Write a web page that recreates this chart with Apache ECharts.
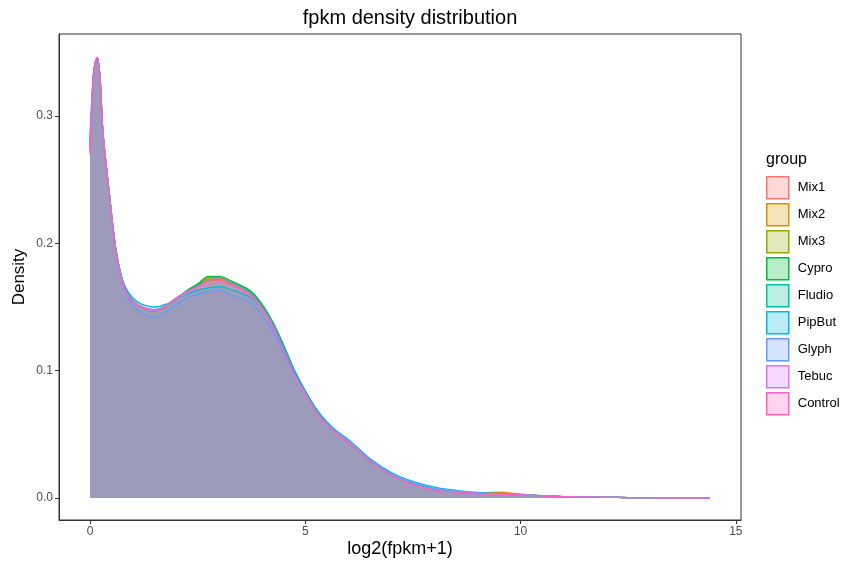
<!DOCTYPE html>
<html>
<head>
<meta charset="utf-8">
<script type="text/javascript" src="https://cdn.jsdelivr.net/npm/echarts@6/dist/echarts.min.js"></script>
<style>
	body { margin: 0; background: #fff; }
	#main { width: 858px; height: 567px; }
</style>
</head>
<body>
<div id="main"></div>
<script type="text/javascript">
	// log2(fpkm+1) grid points
	var xs = [0, 0.04, 0.08, 0.12, 0.17, 0.23, 0.3, 0.45, 0.6, 0.75, 0.9, 1.1, 1.3, 1.5, 1.75, 2, 2.25, 2.5, 2.75, 3, 3.25, 3.5, 3.75, 4, 4.25, 4.5, 4.75, 5, 5.25, 5.5, 5.75, 6, 6.5, 7, 7.5, 8, 8.5, 9, 9.5, 10, 10.5, 11, 11.5, 12, 12.5, 13, 13.5, 14, 14.4];

	var groups = ['Mix1', 'Mix2', 'Mix3', 'Cypro', 'Fludio', 'PipBut', 'Glyph', 'Tebuc', 'Control'];
	var colors = ['#F8766D', '#D39200', '#93AA00', '#00BA38', '#00C19F', '#00B9E3', '#619CFF', '#DB72FB', '#FF61C3'];

	var mix1 = [0.272, 0.304, 0.329, 0.342, 0.346, 0.331, 0.287, 0.238, 0.194, 0.170, 0.158, 0.151, 0.148, 0.147, 0.150, 0.156, 0.161, 0.166, 0.170, 0.171, 0.168, 0.164, 0.158, 0.148, 0.134, 0.116, 0.097, 0.082, 0.068, 0.058, 0.050, 0.044, 0.029, 0.018, 0.0108, 0.0065, 0.0047, 0.0036, 0.0033, 0.0026, 0.0017, 0.0011, 0.0007, 0.0005, 0.0003, 0.0002, 0.0001, 0.00005, 0];
	var mix2 = [0.274, 0.305, 0.330, 0.342, 0.345, 0.331, 0.287, 0.238, 0.194, 0.170, 0.158, 0.151, 0.148, 0.147, 0.150, 0.156, 0.162, 0.167, 0.172, 0.172, 0.168, 0.164, 0.159, 0.149, 0.135, 0.117, 0.098, 0.083, 0.069, 0.058, 0.050, 0.044, 0.029, 0.018, 0.0108, 0.0066, 0.0048, 0.0040, 0.0045, 0.0030, 0.0018, 0.0011, 0.0007, 0.0005, 0.0003, 0.0002, 0.0001, 0.00005, 0];
	var mix3 = [0.275, 0.306, 0.331, 0.342, 0.345, 0.331, 0.287, 0.238, 0.195, 0.171, 0.159, 0.152, 0.148, 0.147, 0.150, 0.156, 0.162, 0.168, 0.173, 0.173, 0.169, 0.165, 0.160, 0.150, 0.136, 0.118, 0.099, 0.083, 0.069, 0.058, 0.050, 0.044, 0.029, 0.018, 0.0108, 0.0065, 0.0047, 0.0036, 0.0034, 0.0028, 0.0018, 0.0011, 0.0007, 0.0005, 0.0003, 0.0002, 0.0001, 0.00005, 0];
	var cypro = [0.276, 0.306, 0.331, 0.342, 0.345, 0.331, 0.287, 0.238, 0.195, 0.171, 0.159, 0.152, 0.148, 0.147, 0.150, 0.156, 0.163, 0.168, 0.174, 0.174, 0.171, 0.167, 0.162, 0.152, 0.138, 0.120, 0.100, 0.084, 0.070, 0.059, 0.051, 0.044, 0.029, 0.018, 0.0108, 0.0064, 0.0046, 0.0035, 0.0031, 0.0026, 0.0017, 0.0010, 0.0007, 0.0005, 0.0003, 0.0002, 0.0001, 0.00005, 0];
	var fludio = [0.276, 0.306, 0.331, 0.342, 0.345, 0.331, 0.287, 0.238, 0.195, 0.171, 0.159, 0.152, 0.149, 0.148, 0.151, 0.157, 0.162, 0.167, 0.171, 0.172, 0.170, 0.166, 0.161, 0.151, 0.137, 0.119, 0.100, 0.084, 0.070, 0.059, 0.051, 0.045, 0.030, 0.019, 0.0110, 0.0066, 0.0047, 0.0035, 0.0031, 0.0026, 0.0017, 0.0010, 0.0007, 0.0005, 0.0003, 0.0002, 0.0001, 0.00005, 0];
	var pipbut = [0.280, 0.310, 0.333, 0.342, 0.345, 0.332, 0.288, 0.239, 0.196, 0.172, 0.161, 0.154, 0.151, 0.150, 0.152, 0.156, 0.160, 0.163, 0.165, 0.166, 0.164, 0.161, 0.157, 0.148, 0.135, 0.117, 0.099, 0.084, 0.070, 0.060, 0.052, 0.046, 0.031, 0.020, 0.0130, 0.0085, 0.0060, 0.0043, 0.0034, 0.0027, 0.0018, 0.0011, 0.0007, 0.0005, 0.0003, 0.0002, 0.0001, 0.00005, 0];
	var glyph = [0.285, 0.313, 0.334, 0.341, 0.342, 0.331, 0.288, 0.238, 0.194, 0.169, 0.156, 0.148, 0.143, 0.142, 0.146, 0.152, 0.157, 0.160, 0.162, 0.163, 0.160, 0.157, 0.153, 0.144, 0.131, 0.114, 0.096, 0.082, 0.068, 0.058, 0.051, 0.045, 0.030, 0.019, 0.0120, 0.0075, 0.0052, 0.0038, 0.0032, 0.0026, 0.0017, 0.0010, 0.0007, 0.0005, 0.0003, 0.0002, 0.0001, 0.00005, 0];
	var tebuc = [0.273, 0.304, 0.330, 0.342, 0.346, 0.331, 0.287, 0.238, 0.194, 0.170, 0.158, 0.151, 0.148, 0.147, 0.150, 0.156, 0.161, 0.165, 0.168, 0.169, 0.167, 0.163, 0.158, 0.148, 0.134, 0.116, 0.097, 0.082, 0.068, 0.058, 0.050, 0.044, 0.029, 0.018, 0.0107, 0.0064, 0.0046, 0.0035, 0.0031, 0.0025, 0.0017, 0.0010, 0.0007, 0.0005, 0.0003, 0.0002, 0.0001, 0.00005, 0];
	var control = [0.270, 0.302, 0.328, 0.342, 0.346, 0.330, 0.286, 0.237, 0.193, 0.169, 0.158, 0.152, 0.149, 0.148, 0.151, 0.157, 0.162, 0.166, 0.171, 0.172, 0.169, 0.165, 0.159, 0.149, 0.135, 0.116, 0.097, 0.082, 0.068, 0.058, 0.050, 0.044, 0.029, 0.018, 0.0105, 0.0062, 0.0045, 0.0033, 0.0030, 0.0025, 0.0017, 0.0010, 0.0007, 0.0005, 0.0003, 0.0002, 0.0001, 0.00005, 0.00002];

	var densities = [mix1, mix2, mix3, cypro, fludio, pipbut, glyph, tebuc, control];

	var xTicks = [0, 5, 10, 15];
	var yTicks = [0, 0.1, 0.2, 0.3];

	function alpha(hex, a) {
		var r = parseInt(hex.substr(1, 2), 16), g = parseInt(hex.substr(3, 2), 16), b = parseInt(hex.substr(5, 2), 16);
		return 'rgba(' + r + ',' + g + ',' + b + ',' + a + ')';
	}

	var font = 'Liberation Sans, Arial, sans-serif';
	var series = [], legendData = [];
	for (var i = 0; i < groups.length; i++) {
		var pts = [];
		for (var j = 0; j < xs.length; j++) {
			pts.push([xs[j], densities[i][j]]);
		}
		series.push({
			name : groups[i],
			type : 'line',
			smooth : 0.3,
			symbol : 'none',
			data : pts,
			itemStyle : { color : colors[i] },
			lineStyle : { color : colors[i], width : 1.3 },
			areaStyle : { color : alpha(colors[i], 0.2), opacity : 1 }
		});
		legendData.push({
			name : groups[i],
			itemStyle : { color : alpha(colors[i], 0.27), borderColor : colors[i], borderWidth : 1.5 }
		});
	}

	var myChart = echarts.init(document.getElementById('main'));
	var option = {
		animation : false,
		backgroundColor : '#fff',
		title : [ {
			text : 'fpkm density distribution',
			left : 405,
			textAlign : 'center',
			top : 3,
			textStyle : { fontFamily : font, fontSize : 20, fontWeight : 'normal', color : '#000' }
		}, {
			text : 'group',
			left : 761,
			top : 147,
			textStyle : { fontFamily : font, fontSize : 16, fontWeight : 'normal', color : '#000' }
		} ],
		legend : {
			orient : 'vertical',
			left : 766,
			top : 176,
			padding : 0,
			icon : 'rect',
			itemWidth : 22,
			itemHeight : 22,
			itemGap : 3.5,
			data : legendData,
			selectedMode : false,
			textStyle : { fontFamily : font, fontSize : 13, color : '#000', padding : [0, 0, 0, 4] }
		},
		grid : {
			left : 59,
			right : 117,
			top : 34,
			bottom : 47,
			show : true,
			borderColor : '#333',
			borderWidth : 1
		},
		xAxis : {
			type : 'value',
			min : -0.72,
			max : 15.12,
			name : 'log2(fpkm+1)',
			nameLocation : 'middle',
			nameMoveOverlap : false,
			nameGap : 20,
			nameTextStyle : { fontFamily : font, fontSize : 18, color : '#000' },
			axisLine : { onZero : false, lineStyle : { color : '#333', width : 1 } },
			axisTick : { customValues : xTicks, length : 4, lineStyle : { color : '#333' } },
			axisLabel : { customValues : xTicks, fontFamily : font, fontSize : 12, color : '#4d4d4d', margin : 6 },
			splitLine : { show : false }
		},
		yAxis : {
			type : 'value',
			min : -0.0173,
			max : 0.3644,
			name : 'Density',
			nameLocation : 'middle',
			nameMoveOverlap : false,
			nameRotate : 90,
			nameGap : 31,
			nameTextStyle : { fontFamily : font, fontSize : 17, color : '#000' },
			axisLine : { show : true, onZero : false, lineStyle : { color : '#333', width : 1 } },
			axisTick : { show : true, customValues : yTicks, length : 4, lineStyle : { color : '#333' } },
			axisLabel : {
				customValues : yTicks, fontFamily : font, fontSize : 12, color : '#4d4d4d', margin : 6,
				formatter : function(v) { return v.toFixed(1); }
			},
			splitLine : { show : false }
		},
		series : series
	};
	myChart.setOption(option);
</script>
</body>
</html>
